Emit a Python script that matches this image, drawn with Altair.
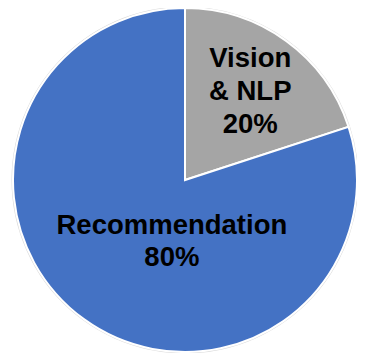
import altair as alt
import pandas as pd

categories = ["Vision & NLP", "Recommendation"]
values = [20, 80]
label_lines = [["Vision", "& NLP", "20%"], ["Recommendation", "80%"]]
colors = ["#A5A5A5", "#4472C4"]

df = pd.DataFrame({
    "category": categories,
    "value": values,
    "order": list(range(len(categories))),
    "label": label_lines,
})

color_scale = alt.Scale(domain=categories, range=colors)
theta_scale = alt.Scale(domain=[0, sum(values)])

CX, CY, R = 177, 172, 172

base = alt.Chart(df).encode(
    order=alt.Order("order:Q"),
    x=alt.value(CX),
    y=alt.value(CY),
)

halo = base.mark_arc(outerRadius=R + 1.5, fill="#DADADA", stroke=None).encode(
    theta=alt.Theta("value:Q", stack=True, scale=theta_scale)
)

pie = base.mark_arc(outerRadius=R, stroke="white", strokeWidth=2).encode(
    theta=alt.Theta("value:Q", stack=True, scale=theta_scale),
    color=alt.Color("category:N", scale=color_scale, legend=None),
)

text_base = base.transform_window(
    cum_end="sum(value)", sort=[alt.SortField("order")]
).transform_calculate(
    mid="datum.cum_end - datum.value / 2"
)

text_style = dict(font="Liberation Sans", fontWeight="bold", fontSize=27.5,
                  color="black", align="center", baseline="middle")

label_vision = text_base.transform_filter(
    alt.datum.category == categories[0]
).mark_text(radius=111, dx=0, dy=-31, lineHeight=33, **text_style).encode(
    theta=alt.Theta("mid:Q", stack=None, scale=theta_scale),
    text="label",
)

label_rec = text_base.transform_filter(
    alt.datum.category == categories[1]
).mark_text(radius=70, dx=28, dy=-11, lineHeight=32, **text_style).encode(
    theta=alt.Theta("mid:Q", stack=None, scale=theta_scale),
    text="label",
)

chart = alt.layer(halo, pie, label_vision, label_rec).properties(
    width=349, height=345,
    autosize=alt.AutoSizeParams(type="none"),
    padding=0,
).configure_view(stroke=None)

chart.save("out.html", embed_options={"renderer": "svg", "actions": False})
